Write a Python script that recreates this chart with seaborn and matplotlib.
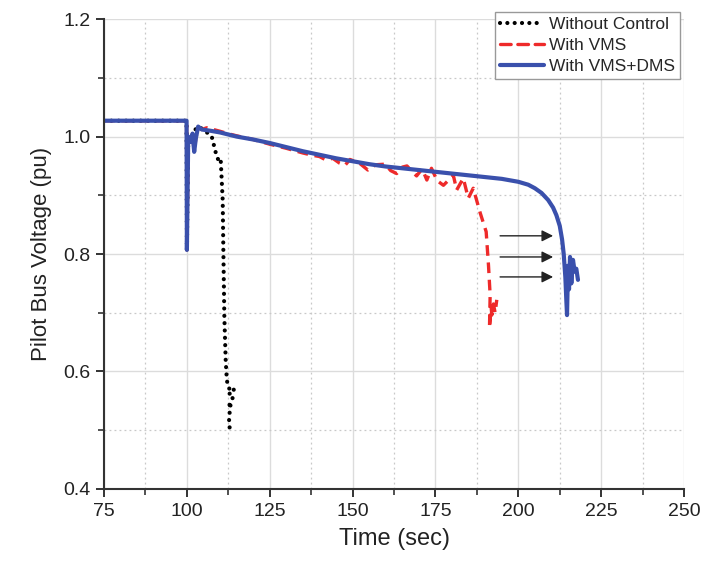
import numpy as np
import pandas as pd
import matplotlib
matplotlib.use("Agg")
import matplotlib.pyplot as plt
import seaborn as sns
from matplotlib.ticker import MultipleLocator

# ---- data ----
t_dms = [75, 99.9, 100.0, 100.4, 101.1, 101.7, 102.2, 102.7, 103.4, 104.5, 107, 110, 115, 120,
         125, 130, 135, 140, 145, 150, 155, 160, 165, 170, 175, 180, 185, 190, 195, 200, 203,
         205, 207, 209, 210.5, 211.5, 212.5, 213.2, 213.7, 214.2, 214.5, 214.7, 215, 215.3,
         215.6, 216, 216.5, 217, 217.5, 218]
v_dms = [1.027, 1.027, 0.807, 1.0, 0.991, 1.005, 0.974, 0.997, 1.017, 1.012, 1.010, 1.007,
         1.0, 0.995, 0.989, 0.982, 0.975, 0.969, 0.963, 0.958, 0.953, 0.949, 0.946, 0.943,
         0.940, 0.937, 0.934, 0.931, 0.928, 0.923, 0.918, 0.912, 0.904, 0.892, 0.879, 0.866,
         0.848, 0.825, 0.80, 0.76, 0.72, 0.696, 0.78, 0.74, 0.795, 0.75, 0.79, 0.77, 0.775,
         0.756]

t_vms = [75, 99.9, 100.0, 100.4, 101.1, 101.7, 102.2, 102.7, 103.4, 104.5, 106, 108, 110, 113,
         116, 120, 125, 130, 135, 138, 140, 142, 144, 146, 147.7, 149.2, 152, 154.6, 157,
         159.8, 161.5, 163.3, 165, 166.4, 168, 169.3, 171, 172.4, 173.8, 175.5, 177.4, 180.4,
         181.4, 183.4, 184.9, 186.4, 188.5, 190.3, 191.0, 191.5, 191.3, 191.8, 192.0, 192.5,
         193.0, 193.5]
v_vms = [1.027, 1.027, 0.807, 1.0, 0.991, 1.005, 0.974, 0.997, 1.015, 1.012, 1.015, 1.012,
         1.009, 1.004, 1.0, 0.995, 0.987, 0.980, 0.972, 0.968, 0.966, 0.960, 0.963, 0.955,
         0.951, 0.961, 0.955, 0.943, 0.952, 0.953, 0.942, 0.937, 0.948, 0.950, 0.940, 0.933,
         0.945, 0.926, 0.946, 0.925, 0.917, 0.934, 0.909, 0.929, 0.895, 0.912, 0.870, 0.838,
         0.781, 0.730, 0.674, 0.71, 0.696, 0.715, 0.70, 0.722]

t_none = [75, 99.9, 100.0, 100.4, 101.1, 101.9, 103.4, 105, 107.5, 109, 109.7, 110.2, 110.8,
          111.0, 111.3, 111.7, 112.0, 112.3, 113.5, 114.3, 112.5, 113.8, 112.6, 113.2, 112.7,
          112.9]
v_none = [1.027, 1.027, 0.807, 1.0, 0.991, 1.008, 1.017, 1.012, 1.0, 0.966, 0.958, 0.961,
          0.892, 0.807, 0.693, 0.62, 0.59, 0.575, 0.565, 0.57, 0.56, 0.555, 0.54, 0.545, 0.52,
          0.504]

arrow_y = [0.831, 0.795, 0.761]
arrow_x0 = 194.5
arrow_x1 = 210.5

labels = ["Without Control", "With VMS", "With VMS+DMS"]

# ---- style ----
sns.set_style("ticks")
plt.rcParams["font.family"] = ["Liberation Sans", "DejaVu Sans"]

fig = plt.figure(figsize=(7.03, 5.62), dpi=100)
ax = fig.add_axes([0.148, 0.130, 0.825, 0.836])

blue = "#3a50ac"
red = "#ee2a2a"

sns.lineplot(x=t_none, y=v_none, ax=ax, color="black", lw=3.0, linestyle=(0, (0.01, 1.75)),
             sort=False, estimator=None, label=labels[0], dash_capstyle="round")
sns.lineplot(x=t_vms, y=v_vms, ax=ax, color=red, lw=2.4, linestyle=(0, (3.2, 2.0)),
             sort=False, estimator=None, label=labels[1])
sns.lineplot(x=t_dms, y=v_dms, ax=ax, color=blue, lw=3.0, linestyle="-",
             sort=False, estimator=None, label=labels[2])

for y in arrow_y:
    ax.annotate("", xy=(arrow_x1, y), xytext=(arrow_x0, y),
                arrowprops=dict(arrowstyle="-|>", color="#222222", lw=1.0,
                                mutation_scale=17, shrinkA=0, shrinkB=0))

ax.set_xlim(75, 250)
ax.set_ylim(0.4, 1.2)
ax.xaxis.set_major_locator(MultipleLocator(25))
ax.xaxis.set_minor_locator(MultipleLocator(12.5))
ax.yaxis.set_major_locator(MultipleLocator(0.2))
ax.yaxis.set_minor_locator(MultipleLocator(0.1))
ax.xaxis.set_major_formatter(matplotlib.ticker.FormatStrFormatter("%d"))
ax.yaxis.set_major_formatter(matplotlib.ticker.FormatStrFormatter("%.1f"))

ax.grid(which="major", color="#dcdcdc", lw=1.0, ls="-")
ax.grid(which="minor", color="#c8c8c8", lw=0.9, ls=(0, (1.5, 2.5)))
ax.set_axisbelow(True)

for s in ["top", "right"]:
    ax.spines[s].set_visible(False)
for s in ["left", "bottom"]:
    ax.spines[s].set_color("#333333")
    ax.spines[s].set_linewidth(1.5)

ax.tick_params(which="major", direction="out", length=6, width=1.4, color="#333333",
               labelsize=14, labelcolor="#222222", pad=4)
ax.tick_params(which="minor", direction="out", length=4, width=1.2, color="#333333")

ax.set_xlabel("Time (sec)", fontsize=17, color="#222222", labelpad=6)
ax.set_ylabel("Pilot Bus Voltage (pu)", fontsize=16, color="#222222", labelpad=8)

leg = ax.legend(loc="upper right", bbox_to_anchor=(0.993, 1.015), fontsize=12.5,
                frameon=True, fancybox=False, edgecolor="#999999", framealpha=1,
                handlelength=2.5, handletextpad=0.3, labelspacing=0.32, borderpad=0.3,
                borderaxespad=0.0)
leg.get_frame().set_linewidth(1.0)
for h in leg.get_lines():
    h.set_dash_capstyle("round")

fig.savefig("out.png", dpi=100)
